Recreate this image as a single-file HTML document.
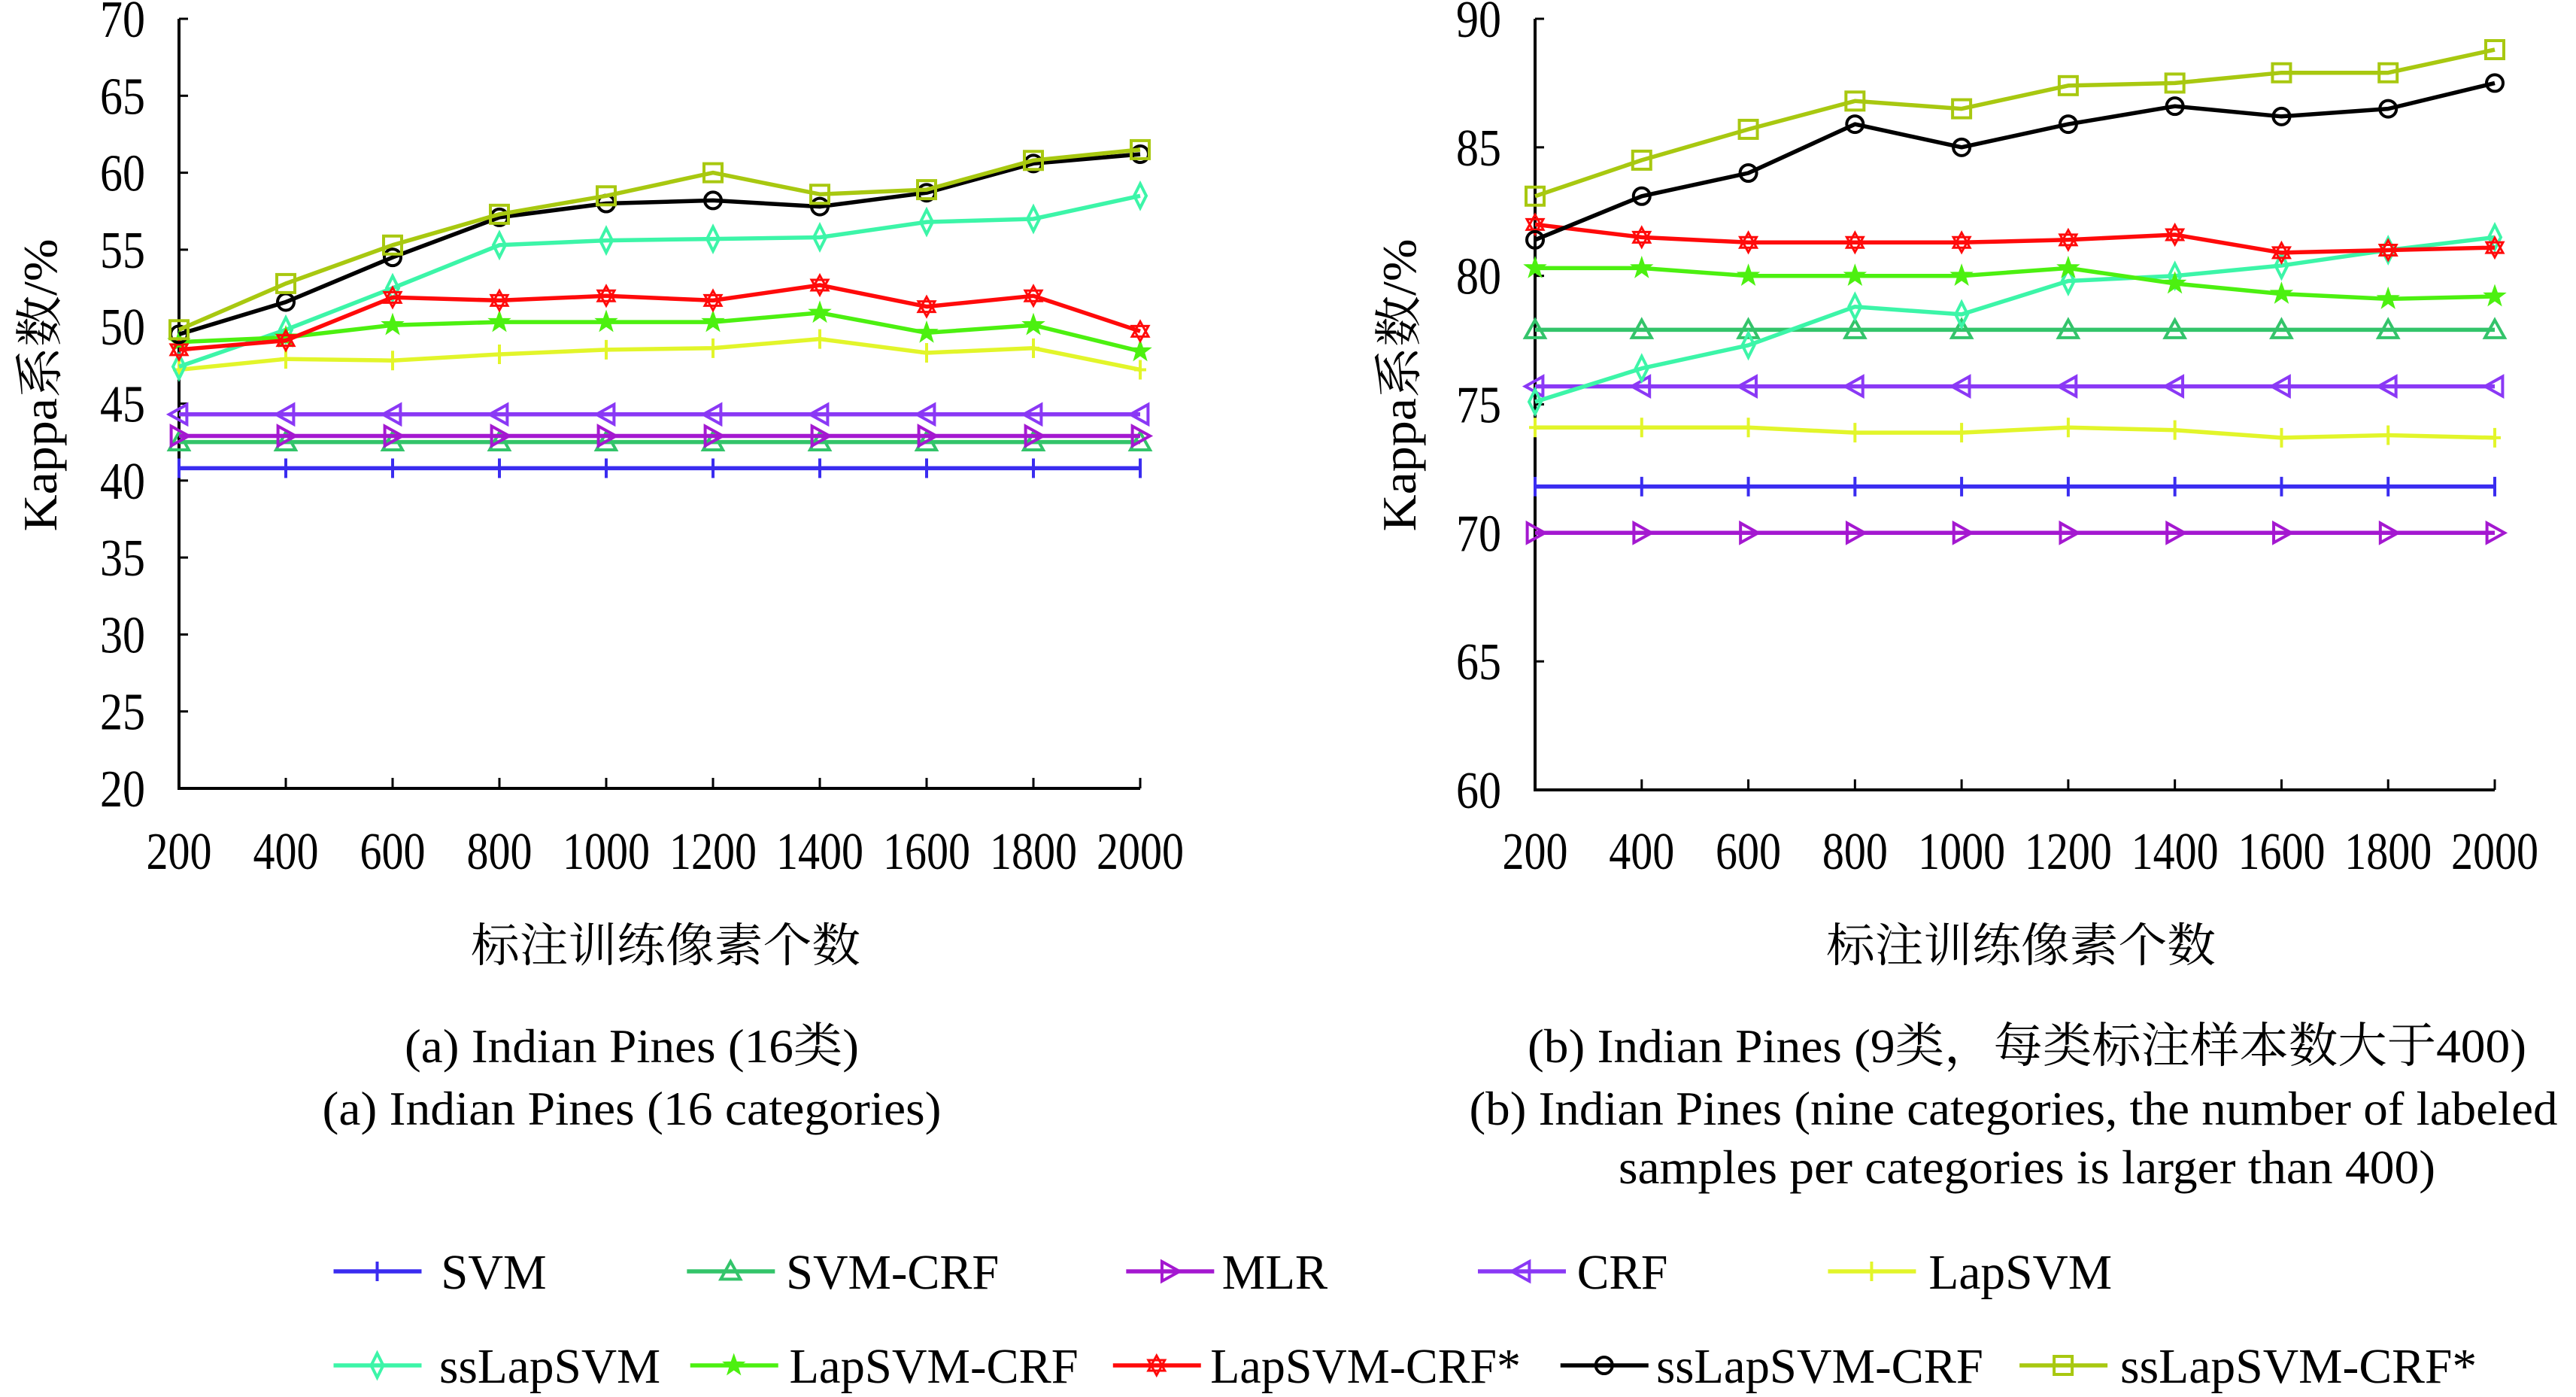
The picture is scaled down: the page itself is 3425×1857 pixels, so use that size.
<!DOCTYPE html>
<html><head><meta charset="utf-8"><style>
html,body{margin:0;padding:0;background:#fff}
svg{display:block}
text{font-family:"Liberation Serif","Noto Serif CJK SC","Noto Sans CJK SC",serif;fill:#000}
</style></head><body>
<svg id="svg" width="3425" height="1857" viewBox="0 0 3425 1857" xmlns="http://www.w3.org/2000/svg"></svg>
<script>
const categories=[200,400,600,800,1000,1200,1400,1600,1800,2000];
const seriesNames=["SVM","SVM-CRF","MLR","CRF","LapSVM","ssLapSVM","LapSVM-CRF","LapSVM-CRF*","ssLapSVM-CRF","ssLapSVM-CRF*"];
const seriesColors=["#3a2cf0","#33c46a","#a418d0","#8a38f5","#e2f52a","#3cf5a8","#4cf010","#ff0a0a","#000000","#a8c810"];
const seriesMarkers=["plus","triUp","triRight","triLeft","smallstar","diamond","star","hexagram","circle","square"];
const leftTicks=[20,25,30,35,40,45,50,55,60,65,70];
const rightTicks=[60,65,70,75,80,85,90];
// left chart (16 categories)
const leftSVM=[40.8,40.8,40.8,40.8,40.8,40.8,40.8,40.8,40.8,40.8];
const leftSVMCRF=[42.5,42.5,42.5,42.5,42.5,42.5,42.5,42.5,42.5,42.5];
const leftMLR=[42.9,42.9,42.9,42.9,42.9,42.9,42.9,42.9,42.9,42.9];
const leftCRF=[44.3,44.3,44.3,44.3,44.3,44.3,44.3,44.3,44.3,44.3];
const leftLapSVM=[47.2,47.9,47.8,48.2,48.5,48.6,49.2,48.3,48.6,47.2];
const leftSsLapSVM=[47.4,49.8,52.5,55.3,55.6,55.7,55.8,56.8,57.0,58.5];
const leftLapSVMCRF=[49.0,49.3,50.1,50.3,50.3,50.3,50.9,49.6,50.1,48.4];
const leftLapSVMCRFs=[48.5,49.1,51.9,51.7,52.0,51.7,52.7,51.3,52.0,49.7];
const leftSsLapSVMCRF=[49.5,51.6,54.5,57.1,58.0,58.2,57.8,58.7,60.6,61.2];
const leftSsLapSVMCRFs=[49.8,52.8,55.3,57.3,58.5,60.0,58.6,58.9,60.8,61.5];
// right chart (9 categories)
const rightSVM=[71.8,71.8,71.8,71.8,71.8,71.8,71.8,71.8,71.8,71.8];
const rightSVMCRF=[77.9,77.9,77.9,77.9,77.9,77.9,77.9,77.9,77.9,77.9];
const rightMLR=[70.0,70.0,70.0,70.0,70.0,70.0,70.0,70.0,70.0,70.0];
const rightCRF=[75.7,75.7,75.7,75.7,75.7,75.7,75.7,75.7,75.7,75.7];
const rightLapSVM=[74.1,74.1,74.1,73.9,73.9,74.1,74.0,73.7,73.8,73.7];
const rightSsLapSVM=[75.1,76.4,77.3,78.8,78.5,79.8,80.0,80.4,81.0,81.5];
const rightLapSVMCRF=[80.3,80.3,80.0,80.0,80.0,80.3,79.7,79.3,79.1,79.2];
const rightLapSVMCRFs=[82.0,81.5,81.3,81.3,81.3,81.4,81.6,80.9,81.0,81.1];
const rightSsLapSVMCRF=[81.4,83.1,84.0,85.9,85.0,85.9,86.6,86.2,86.5,87.5];
const rightSsLapSVMCRFs=[83.1,84.5,85.7,86.8,86.5,87.4,87.5,87.9,87.9,88.8];

const leftData=[leftSVM,leftSVMCRF,leftMLR,leftCRF,leftLapSVM,leftSsLapSVM,leftLapSVMCRF,leftLapSVMCRFs,leftSsLapSVMCRF,leftSsLapSVMCRFs];
const rightData=[rightSVM,rightSVMCRF,rightMLR,rightCRF,rightLapSVM,rightSsLapSVM,rightLapSVMCRF,rightLapSVMCRFs,rightSsLapSVMCRF,rightSsLapSVMCRFs];

const NS="http://www.w3.org/2000/svg";
const svg=document.getElementById('svg');
function mk(tag,attrs,parent){const e=document.createElementNS(NS,tag);for(const k in attrs)e.setAttribute(k,attrs[k]);(parent||svg).appendChild(e);return e;}
function txt(s,attrs,parent){const e=mk('text',attrs,parent);e.textContent=s;return e;}

function marker(g,type,x,y,c){
  const r=13;let e;
  if(type==="plus"){e=mk('path',{d:`M${x} ${y-r}V${y+r}`,stroke:c,'stroke-width':4,fill:'none'},g);}
  else if(type==="triUp"){e=mk('polygon',{points:`${x},${y-r} ${x+r},${y+r*0.8} ${x-r},${y+r*0.8}`,stroke:c,'stroke-width':4,fill:'none'},g);}
  else if(type==="triRight"){e=mk('polygon',{points:`${x+r},${y} ${x-r*0.8},${y-r} ${x-r*0.8},${y+r}`,stroke:c,'stroke-width':4,fill:'none'},g);}
  else if(type==="triLeft"){e=mk('polygon',{points:`${x-r},${y} ${x+r*0.8},${y-r} ${x+r*0.8},${y+r}`,stroke:c,'stroke-width':4,fill:'none'},g);}
  else if(type==="smallstar"){e=mk('path',{d:`M${x} ${y-r}V${y+r}M${x-8} ${y}H${x+8}`,stroke:c,'stroke-width':4,fill:'none'},g);}
  else if(type==="diamond"){e=mk('polygon',{points:`${x},${y-r-3} ${x+8},${y} ${x},${y+r+3} ${x-8},${y}`,stroke:c,'stroke-width':4,fill:'none'},g);}
  else if(type==="star"){let p=[];for(let i=0;i<10;i++){const a=-Math.PI/2+i*Math.PI/5;const rr=i%2?6:r+2;p.push((x+rr*Math.cos(a)).toFixed(1)+','+(y+rr*Math.sin(a)).toFixed(1));}e=mk('polygon',{points:p.join(' '),fill:c,stroke:c,'stroke-width':1},g);}
  else if(type==="hexagram"){e=mk('path',{d:`M${x} ${y-r}L${x+11} ${y+7}H${x-11}ZM${x} ${y+r}L${x+11} ${y-7}H${x-11}Z`,stroke:c,'stroke-width':3,fill:'none'},g);}
  else if(type==="circle"){e=mk('circle',{cx:x,cy:y,r:11,stroke:c,'stroke-width':4,fill:'none'},g);}
  else if(type==="square"){e=mk('rect',{x:x-12,y:y-12,width:24,height:24,stroke:c,'stroke-width':4,fill:'none'},g);}
  
  
}

function chart(id,x0,x1,y0,y1,ticks,data,ytitleX,xtitleX,xtitleLen){
  const g=mk('g',{});
  
  
  const vmin=ticks[0],vmax=ticks[ticks.length-1];
  const sx=i=>x0+(x1-x0)*i/(categories.length-1);
  const sy=v=>y1-(v-vmin)/(vmax-vmin)*(y1-y0);
  const ax=mk('path',{d:`M${x0} ${y0}V${y1}H${x1}`,stroke:'#000','stroke-width':4,fill:'none'},g);
  
  
  ticks.forEach(t=>{
    const y=sy(t);
    mk('path',{d:`M${x0} ${y}H${x0+12}`,stroke:'#000','stroke-width':3},g);
    const l=txt(String(t),{x:x0-45,y:y+24,'font-size':70,'text-anchor':'end',textLength:60,lengthAdjust:'spacingAndGlyphs'},g);
    
    
  });
  categories.forEach((c,i)=>{
    const x=sx(i);
    mk('path',{d:`M${x} ${y1}V${y1-14}`,stroke:'#000','stroke-width':3},g);
    const s=String(c);
    const l=txt(s,{x:x,y:1155,'font-size':70,'text-anchor':'middle',textLength:s.length*29,lengthAdjust:'spacingAndGlyphs'},g);
    
    
  });
  data.forEach((arr,k)=>{
    const sg=mk('g',{},g);
    
    
    const d=arr.map((v,i)=>(i?'L':'M')+sx(i).toFixed(1)+' '+sy(v).toFixed(1)).join('');
    const p=mk('path',{d:d,stroke:seriesColors[k],'stroke-width':5.5,fill:'none','stroke-linejoin':'round'},sg);
    
    
    arr.forEach((v,i)=>marker(sg,seriesMarkers[k],sx(i),sy(v),seriesColors[k]));
  });
  const yt=txt('Kappa系数/%',{x:0,y:0,'font-size':64,'text-anchor':'middle',textLength:389,lengthAdjust:'spacingAndGlyphs',transform:`translate(${ytitleX+20},512) rotate(-90)`},g);
  
  
  const xt=txt('标注训练像素个数',{x:xtitleX,y:1278,'font-size':62,'text-anchor':'middle',textLength:xtitleLen,lengthAdjust:'spacingAndGlyphs'},g);
  
  
}
chart('chart-a-16-classes',238,1516,25,1048,leftTicks,leftData,55,885,518);
chart('chart-b-9-classes',2041,3317,25,1050,rightTicks,rightData,1862,2687,518);

const caps=[["(a) Indian Pines (16类)",840,1412,604,"caption-a-cn"],["(a) Indian Pines (16 categories)",840,1495,823,"caption-a-en"],
["(b) Indian Pines (9类，每类标注样本数大于400)",2695,1412,1328,"caption-b-cn"],["(b) Indian Pines (nine categories, the number of labeled",2677,1495,1447,"caption-b-en-line1"],["samples per categories is larger than 400)",2695,1573,1086,"caption-b-en-line2"]];
caps.forEach(c=>{const t=txt(c[0],{x:c[1],y:c[2],'font-size':64,'text-anchor':'middle',textLength:c[3],lengthAdjust:'spacingAndGlyphs'});

});

const legLineX=[202,416,682,895,1107,202,418,674,945,1223];
const legTextX=[267,476,740,955,1168,266,478,733,1003,1284];
const legTextEnd=[331,605,804,1010,1279,400,653,921,1201,1500];
const S=3425/1560;
seriesNames.forEach((n,k)=>{
  const g=mk('g',{});
  
  
  const y=k<5?1690:1815;
  const lx=legLineX[k]*S;
  mk('path',{d:`M${lx} ${y}H${lx+117}`,stroke:seriesColors[k],'stroke-width':5.5},g);
  marker(g,seriesMarkers[k],lx+58,y,seriesColors[k]);
  const t=txt(n,{x:legTextX[k]*S,y:y+23,'font-size':66,textLength:(legTextEnd[k]-legTextX[k])*S,lengthAdjust:'spacingAndGlyphs'},g);
  
  
});
</script>
</body></html>
